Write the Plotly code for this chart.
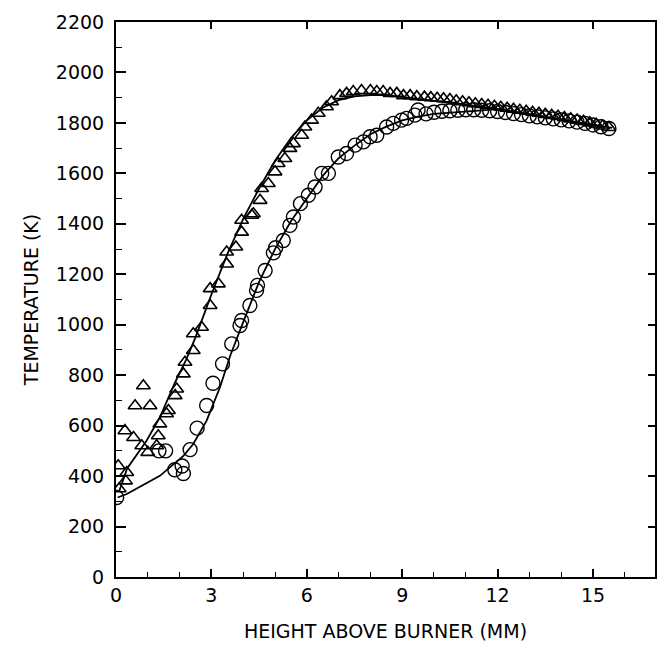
import plotly.graph_objects as go

# Triangle series (measured), x = height above burner (mm), T = temperature (K)
tri_x = [0.07, 0.1, 0.3, 0.34, 0.28, 0.55, 0.6, 0.86, 1.07, 0.81, 1.0, 1.28, 1.33, 1.38, 1.59, 1.65,
         1.86, 1.91, 2.12, 2.17, 2.43, 2.43, 2.69, 2.96, 2.96, 3.22, 3.48, 3.48, 3.77, 3.95, 3.95, 4.27,
         4.32, 4.53, 4.58, 4.79, 5.0, 5.1, 5.31, 5.47, 5.58, 5.84, 5.94, 6.15, 6.36, 6.62, 6.78, 7.04,
         7.25, 7.46, 7.72, 8.0, 8.2, 8.4, 8.62, 8.83, 9.04, 9.25, 9.46, 9.7, 9.9, 10.1, 10.3, 10.5,
         10.7, 10.9, 11.1, 11.3, 11.5, 11.7, 11.9, 12.1, 12.3, 12.5, 12.7, 12.9, 13.1, 13.3, 13.5,
         13.7, 13.9, 14.1, 14.3, 14.5, 14.7, 14.9, 15.1, 15.3, 15.5]
tri_t = [441, 350, 381, 414, 580, 553, 679, 758, 679, 520, 494, 520, 560, 607, 647, 660,
         719, 745, 805, 851, 898, 964, 990, 1076, 1143, 1162, 1241, 1288, 1308, 1367, 1414, 1434,
         1440, 1493, 1540, 1560, 1606, 1639, 1659, 1699, 1718, 1751, 1784, 1811, 1838, 1864, 1884, 1908,
         1917, 1924, 1928, 1928, 1924, 1924, 1917, 1917, 1908, 1908, 1904, 1902, 1900, 1898, 1896, 1893,
         1888, 1884, 1880, 1876, 1873, 1870, 1866, 1862, 1858, 1854, 1850, 1846, 1842, 1838, 1834,
         1830, 1826, 1821, 1816, 1811, 1806, 1800, 1794, 1788, 1782]

# Circle series (measured)
cir_x = [0.02, 1.35, 1.56, 1.85, 2.08, 2.12, 2.33, 2.55, 2.85, 3.05, 3.35, 3.64, 3.9, 3.95, 4.21,
         4.42, 4.45, 4.69, 4.95, 5.02, 5.26, 5.47, 5.58, 5.8, 6.05, 6.26, 6.47, 6.68, 6.99, 7.25,
         7.52, 7.78, 7.99, 8.2, 8.51, 8.72, 8.98, 9.14, 9.4, 9.5, 9.75, 10.0, 10.25, 10.5, 10.75,
         11.0, 11.25, 11.5, 11.75, 12.0, 12.25, 12.5, 12.75, 13.0, 13.25, 13.5, 13.75, 14.0, 14.25,
         14.5, 14.75, 15.0, 15.25, 15.5]
cir_t = [315, 500, 500, 425, 440, 410, 505, 590, 680, 768, 845, 924, 997, 1017, 1076,
         1136, 1156, 1215, 1285, 1305, 1334, 1394, 1427, 1480, 1513, 1546, 1600, 1600, 1665, 1679,
         1712, 1725, 1745, 1751, 1784, 1798, 1811, 1818, 1831, 1851, 1836, 1842, 1846, 1848, 1850,
         1852, 1852, 1850, 1848, 1845, 1841, 1837, 1833, 1828, 1824, 1820, 1816, 1812, 1808,
         1803, 1798, 1792, 1785, 1778]

# Model curves
line1_x = [0.1, 0.35, 0.96, 1.38, 1.86, 2.2, 2.5, 3.0, 3.5, 4.0, 4.5, 5.0, 5.5, 6.0, 6.5, 7.0,
           7.5, 8.0, 8.5, 9.0, 9.5, 10.0, 11.0, 12.0, 13.0, 14.0, 15.0, 15.6]
line1_t = [340, 430, 540, 633, 772, 860, 950, 1120, 1280, 1420, 1540, 1650, 1740, 1810, 1860, 1890,
           1905, 1910, 1910, 1903, 1895, 1888, 1872, 1855, 1835, 1815, 1792, 1780]
line2_x = [0.05, 0.34, 1.38, 1.7, 2.12, 2.43, 2.85, 3.27, 3.6, 4.0, 4.5, 5.0, 5.5, 6.0, 6.5, 7.0,
           7.5, 8.0, 8.5, 9.0, 9.5, 10.0, 10.5, 11.0, 11.5, 12.0]
line2_t = [315, 329, 401, 434, 480, 527, 620, 752, 880, 1010, 1170, 1300, 1410, 1500, 1590, 1660,
           1710, 1755, 1785, 1810, 1825, 1836, 1840, 1843, 1850, 1855]

x_ticks = [0, 3, 6, 9, 12, 15]
y_ticks = [0, 200, 400, 600, 800, 1000, 1200, 1400, 1600, 1800, 2000, 2200]

FONT = dict(family="DejaVu Sans, Verdana, sans-serif", size=19, color="black")

fig = go.Figure()
fig.add_trace(go.Scatter(x=line1_x, y=line1_t, mode="lines", line=dict(color="black", width=1.8),
                         showlegend=False))
fig.add_trace(go.Scatter(x=line2_x, y=line2_t, mode="lines", line=dict(color="black", width=1.8),
                         showlegend=False))
fig.add_trace(go.Scatter(x=tri_x, y=tri_t, mode="markers",
                         marker=dict(symbol="triangle-up-open", size=12, color="black",
                                     line=dict(width=1.6, color="black")),
                         showlegend=False))
fig.add_trace(go.Scatter(x=cir_x, y=cir_t, mode="markers",
                         marker=dict(symbol="circle-open", size=14, color="black",
                                     line=dict(width=1.4, color="black")),
                         showlegend=False))
# invisible trace to bind the mirrored (top/right) axes
fig.add_trace(go.Scatter(x=[0], y=[0], xaxis="x2", yaxis="y2", mode="markers",
                         marker=dict(opacity=0), showlegend=False, hoverinfo="skip"))

fig.update_layout(
    width=657, height=656,
    margin=dict(l=116, r=2, t=22, b=79),
    paper_bgcolor="white", plot_bgcolor="white",
    font=FONT,
    xaxis=dict(range=[0, 16.95], tickvals=x_ticks, ticktext=[str(v) for v in x_ticks],
               ticks="inside", ticklen=8, tickwidth=1.5, tickcolor="black",
               minor=dict(dtick=1, ticks="inside", ticklen=5, tickwidth=1.2, tickcolor="black"),
               showline=True, linewidth=2, linecolor="black", showgrid=False, zeroline=False,
               tickfont=FONT,
               title=dict(text="HEIGHT ABOVE BURNER (MM)", font=FONT, standoff=20)),
    yaxis=dict(range=[0, 2200], tickvals=y_ticks, ticktext=[str(v) for v in y_ticks],
               ticks="inside", ticklen=10, tickwidth=1.5, tickcolor="black",
               minor=dict(dtick=100, ticks="inside", ticklen=6, tickwidth=1.2, tickcolor="black"),
               showline=True, linewidth=2, linecolor="black", showgrid=False, zeroline=False,
               tickfont=FONT, ticklabelstandoff=6,
               title=dict(text="TEMPERATURE (K)", font=FONT, standoff=12)),
    xaxis2=dict(range=[0, 16.95], overlaying="x", side="top", tickvals=[3, 6, 9, 12, 15],
                ticks="inside", ticklen=7, tickwidth=1.5, tickcolor="black", showticklabels=False,
                showline=True, linewidth=2, linecolor="black", showgrid=False, zeroline=False),
    yaxis2=dict(range=[0, 2200], overlaying="y", side="right",
                tickvals=[200, 400, 600, 800, 1000, 1200, 1400, 1600, 1800, 2000],
                ticks="inside", ticklen=7, tickwidth=1.5, tickcolor="black", showticklabels=False,
                showline=True, linewidth=2, linecolor="black", showgrid=False, zeroline=False),
)

# remove the browser's default body margin so the figure sits at the window's origin
fig.write_html("out.html", config={"displayModeBar": False},
               post_script="document.body.style.margin='0';document.body.style.overflow='hidden';")
